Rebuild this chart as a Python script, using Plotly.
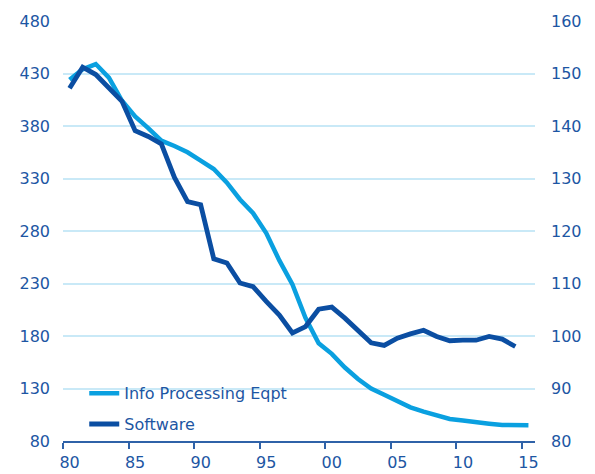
import plotly.graph_objects as go

years_info = list(range(1980, 2016))
info_processing = [424, 434, 439, 426, 404, 389, 378, 366, 361, 355, 347, 339, 326, 310, 297, 278,
                   252, 229, 197, 173, 163, 150, 139, 130, 124, 118, 112, 108, 104, 101, 99.5, 98.5,
                   96.5, 95.2, 95, 95]
years_sw = list(range(1980, 2015))
software = [147.2, 151.2, 149.8, 147.4, 144.7, 139.1, 138.0, 136.6, 130.2, 125.6, 125.0, 114.7,
            113.9, 110.1, 109.4, 106.6, 104.0, 100.6, 101.8, 105.1, 105.5, 103.4, 101.1, 98.7,
            98.2, 99.6, 100.4, 101.1, 99.9, 99.1, 99.2, 99.2, 99.9, 99.4, 98.0]

x_ticks = list(range(1980, 2016, 5))
x_tick_text = ["80", "85", "90", "95", "00", "05", "10", "15"]
left_ticks = [80, 130, 180, 230, 280, 330, 380, 430, 480]
right_ticks = [80, 90, 100, 110, 120, 130, 140, 150, 160]

LIGHT = "#0aa0e0"
DARK = "#0b4ea2"
TEXT = "#1d56a3"
GRID = "#c9e9f7"
FONT = "DejaVu Sans"

fig = go.Figure()
# annual values plotted at mid-year
fig.add_trace(go.Scatter(x=[y + 0.5 for y in years_info], y=info_processing, mode="lines",
                         name="Info Processing Eqpt", line=dict(color=LIGHT, width=4.5),
                         legendgroup="a"))
fig.add_trace(go.Scatter(x=[y + 0.5 for y in years_sw], y=software, mode="lines",
                         name="Software", line=dict(color=DARK, width=4.8), yaxis="y2",
                         legendgroup="b"))

fig.update_layout(
    width=595, height=474,
    margin=dict(l=63, r=60, t=21, b=33, autoexpand=False),
    plot_bgcolor="white", paper_bgcolor="white",
    font=dict(family=FONT, size=16, color=TEXT),
    showlegend=True,
    legend=dict(x=0.045, y=0.154, xanchor="left", yanchor="top",
                bgcolor="rgba(0,0,0,0)", traceorder="grouped", tracegroupgap=7,
                font=dict(family=FONT, size=16, color=TEXT)),
    xaxis=dict(range=[1980, 2016], tickmode="array", automargin=False,
               tickvals=[t + 0.5 for t in x_ticks], ticktext=x_tick_text,
               ticks="", showgrid=False, zeroline=False,
               showline=True, linecolor="#2f62a8", linewidth=2,
               ticklabelstandoff=6,
               minor=dict(tickmode="array", tickvals=x_ticks, ticks="outside",
                          ticklen=6, tickwidth=2, tickcolor="#2f62a8", showgrid=False)),
    yaxis=dict(range=[80, 480], tickmode="array", tickvals=left_ticks, automargin=False,
               showgrid=True, gridcolor=GRID, gridwidth=1.5, zeroline=False,
               showline=False, ticks="", ticklabelstandoff=12),
    yaxis2=dict(range=[80, 160], tickmode="array", tickvals=right_ticks, automargin=False,
                overlaying="y", side="right", showgrid=False, zeroline=False,
                showline=False, ticks="", ticklabelstandoff=15),
)

fig.write_html("out.html", config={"displayModeBar": False},
               post_script="document.body.style.margin='0';")
